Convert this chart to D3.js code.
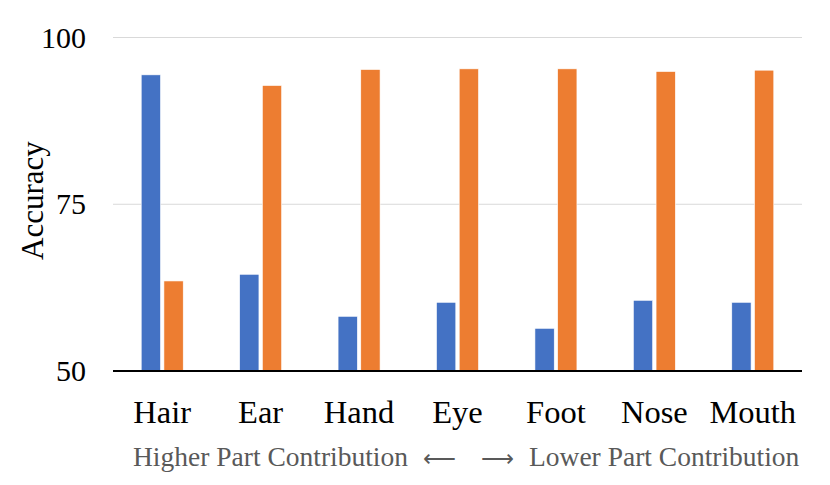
<!DOCTYPE html>
<html>
<head>
<meta charset="utf-8">
<script src="https://cdn.jsdelivr.net/npm/d3@7"></script>
<style>
  html, body { margin: 0; padding: 0; background: #fff; }
  svg { display: block; }
</style>
</head>
<body>
<svg id="chart" width="830" height="485"></svg>
<script>
const categories = ["Hair", "Ear", "Hand", "Eye", "Foot", "Nose", "Mouth"];
const seriesNames = ["A", "B"];
const seriesA = [94.4, 64.5, 58.2, 60.3, 56.4, 60.6, 60.3];
const seriesB = [63.5, 92.8, 95.2, 95.3, 95.3, 94.9, 95.1];
const yTicks = [50, 75, 100];
const yLabel = "Accuracy";
const captionLeft = "Higher Part Contribution";
const arrowLeft = "\u27F5";
const arrowRight = "\u27F6";
const captionRight = "Lower Part Contribution";

const colors = { A: "#4472C4", B: "#ED7D31" };
const font = "'Liberation Serif', 'Times New Roman', serif";

const svg = d3.select("#chart");
const pLeft = 113, pRight = 802, pTop = 37.5, pBottom = 371;

const y = d3.scaleLinear().domain([50, 100]).range([pBottom, pTop]);
const x0 = d3.scaleBand().domain(categories).range([pLeft, pRight]).padding(0);
const step = x0.step();
const x1 = d3.scaleBand().domain(seriesNames)
  .range([step / 2 - 21, step / 2 + 21]).paddingInner(0.15);

// gridlines
svg.append("g").selectAll("line").data(yTicks.filter(t => t > 50)).join("line")
  .attr("x1", pLeft).attr("x2", pRight)
  .attr("y1", d => y(d)).attr("y2", d => y(d))
  .attr("stroke", "#d9d9d9").attr("stroke-width", 1.2);

// bars
const data = categories.map((c, i) => ({ c, vals: [{ s: "A", v: seriesA[i] }, { s: "B", v: seriesB[i] }] }));
svg.append("g").selectAll("g").data(data).join("g")
  .attr("transform", d => `translate(${x0(d.c)},0)`)
  .selectAll("rect").data(d => d.vals).join("rect")
  .attr("x", d => x1(d.s))
  .attr("width", x1.bandwidth())
  .attr("y", d => y(d.v))
  .attr("height", d => y(50) - y(d.v))
  .attr("fill", d => colors[d.s])
  .attr("stroke", "#fff").attr("stroke-width", 0.6);

// x axis line
svg.append("line").attr("x1", pLeft).attr("x2", pRight)
  .attr("y1", pBottom).attr("y2", pBottom)
  .attr("stroke", "#000").attr("stroke-width", 2);

// y tick labels
svg.append("g").selectAll("text").data(yTicks).join("text")
  .attr("x", 86).attr("y", d => y(d)).attr("dy", "0.34em")
  .attr("text-anchor", "end")
  .attr("font-family", font).attr("font-size", 30).attr("fill", "#000")
  .text(d => d);

// category labels
svg.append("g").selectAll("text").data(categories).join("text")
  .attr("x", d => x0(d) + step / 2).attr("y", 423)
  .attr("text-anchor", "middle")
  .attr("font-family", font).attr("font-size", 32.5).attr("fill", "#000")
  .text(d => d);

// y axis title
svg.append("text")
  .attr("transform", `translate(43,200.5) rotate(-90)`)
  .attr("text-anchor", "middle")
  .attr("font-family", font).attr("font-size", 31).attr("fill", "#000")
  .text(yLabel);

// caption
const cap = svg.append("text")
  .attr("x", 133).attr("y", 466)
  .attr("font-family", font).attr("font-size", 27.5).attr("fill", "#595959");
cap.append("tspan").text(captionLeft);
cap.append("tspan").attr("dx", 15).attr("font-size", 23).text(arrowLeft);
cap.append("tspan").attr("dx", 25).attr("font-size", 23).text(arrowRight);
cap.append("tspan").attr("dx", 15).text(captionRight);
</script>
</body>
</html>
